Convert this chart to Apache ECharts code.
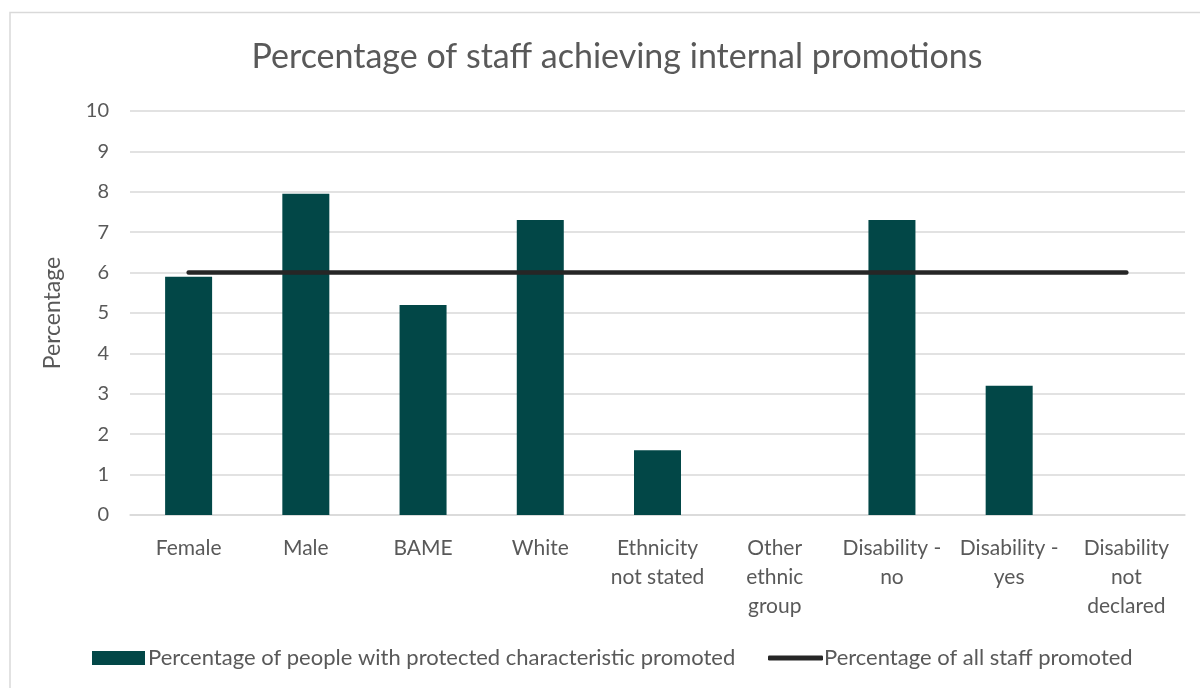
<!DOCTYPE html>
<html>
<head>
<meta charset="utf-8">
<script src="https://cdn.jsdelivr.net/npm/echarts@6/dist/echarts.min.js"></script>
<style>
  html, body { margin: 0; padding: 0; background: #ffffff; }
  #chart { width: 1200px; height: 688px; }
</style>
</head>
<body>
<div id="chart"></div>
<script>
// Categories along the x axis (line breaks as shown under each bar)
const categories = [
  'Female', 'Male', 'BAME', 'White', 'Ethnicity\nnot stated',
  'Other\nethnic\ngroup', 'Disability -\nno', 'Disability -\nyes', 'Disability\nnot\ndeclared'
];
// Percentage of people with each protected characteristic promoted
const protectedPromoted = [5.9, 7.95, 5.2, 7.3, 1.6, 0, 7.3, 3.2, 0];
// Percentage of all staff promoted (organisation-wide benchmark)
const allStaffPromoted = [6, 6, 6, 6, 6, 6, 6, 6, 6];
const yTicks = { min: 0, max: 10, interval: 1 };

const seriesNames = [
  'Percentage of people with protected characteristic promoted',
  'Percentage of all staff promoted'
];

const FONT = 'Lato, "Open Sans", "DejaVu Sans", sans-serif';
const TEXT = '#595959';
const GRID = '#d9d9d9';

const chart = echarts.init(document.getElementById('chart'), null, { renderer: 'canvas' });

chart.setOption({
  backgroundColor: '#ffffff',
  animation: false,
  textStyle: { fontFamily: FONT },
  graphic: [
    {
      type: 'rect',
      shape: { x: 10, y: 12.5, width: 1200, height: 700 },
      style: { fill: 'none', stroke: GRID, lineWidth: 1.5 },
      z: -1
    }
  ],
  title: {
    text: 'Percentage of staff achieving internal promotions',
    left: 612,
    textAlign: 'center',
    top: 35,
    textStyle: { fontFamily: FONT, fontSize: 34, fontWeight: 'normal', color: TEXT }
  },
  legend: [
    {
      data: [{ name: seriesNames[0], icon: 'rect' }],
      left: 92, top: 647, padding: 0,
      itemWidth: 53, itemHeight: 14, itemGap: 4,
      textStyle: { fontFamily: FONT, fontSize: 22, color: TEXT, padding: [0, 0, 0, -2] }
    },
    {
      data: [{ name: seriesNames[1], icon: 'roundRect' }],
      left: 768, top: 647, padding: 0,
      itemWidth: 55, itemHeight: 5,
      textStyle: { fontFamily: FONT, fontSize: 22, color: TEXT, padding: [0, 0, 0, -4] }
    }
  ],
  grid: { left: 130, right: 15, top: 111, bottom: 173, containLabel: false },
  xAxis: {
    type: 'category',
    data: categories,
    axisLine: { show: true, lineStyle: { color: GRID, width: 1.5 } },
    axisTick: { show: false },
    axisLabel: {
      interval: 0, margin: 19, color: TEXT, fontFamily: FONT, fontSize: 21, lineHeight: 29, align: 'center'
    }
  },
  yAxis: {
    type: 'value',
    min: yTicks.min, max: yTicks.max, interval: yTicks.interval,
    name: 'Percentage',
    nameLocation: 'middle',
    nameGap: 66,
    nameRotate: 90,
    nameTextStyle: { color: TEXT, fontFamily: FONT, fontSize: 23 },
    axisLine: { show: false },
    axisTick: { show: false },
    axisLabel: { margin: 21, color: TEXT, fontFamily: FONT, fontSize: 20 },
    splitLine: { show: true, lineStyle: { color: GRID, width: 1.5 } }
  },
  series: [
    {
      name: seriesNames[0],
      type: 'bar',
      data: protectedPromoted,
      barWidth: 47,
      itemStyle: { color: '#024747' },
      z: 2
    },
    {
      name: seriesNames[1],
      type: 'line',
      data: allStaffPromoted,
      symbol: 'none',
      lineStyle: { color: '#262626', width: 4.5, cap: 'round' },
      itemStyle: { color: '#262626' },
      z: 3
    }
  ]
});
</script>
</body>
</html>
